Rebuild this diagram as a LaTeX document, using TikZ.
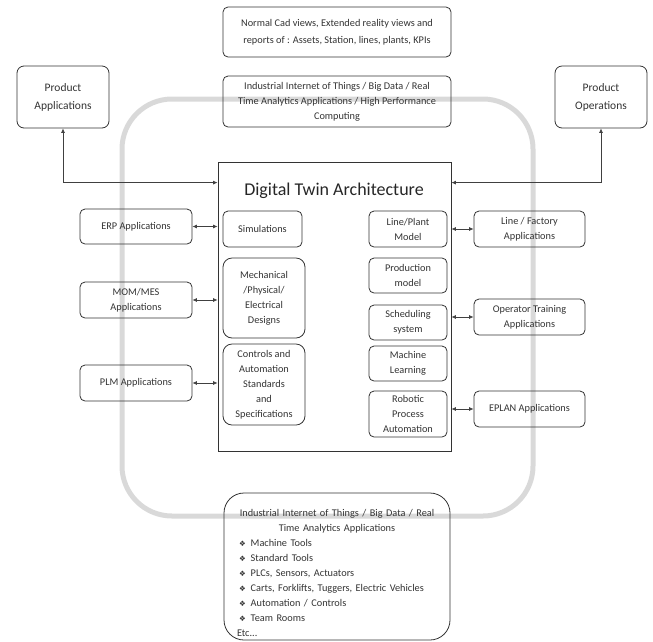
\documentclass[tikz,border=0pt]{standalone}
\usepackage{fontspec}
\setmainfont{Carlito}
\newfontfamily\dingfont{DejaVu Sans}
\usetikzlibrary{arrows.meta}

\tikzset{
  box/.style={draw=black!80, line width=0.8pt, rounded corners=5pt, align=center,
    inner sep=0pt, text=black!80, font=\fontsize{10.3}{15}\selectfont},
  bigbox/.style={box, font=\fontsize{11.5}{18}\selectfont, rounded corners=7pt},
  link/.style={draw=black!75, line width=0.7pt,
    {Latex[length=4.5pt,width=4pt]}-{Latex[length=4.5pt,width=4pt]}},
  frame/.style={draw=black!15, line width=5pt, rounded corners=50pt},
}
\newcommand\dtbullet{\hspace*{2pt}{\dingfont\fontsize{7.5}{15}\selectfont ❖}\hspace{5pt}}

\begin{document}
\begin{tikzpicture}[x=1pt,y=-1pt]
  \useasboundingbox (0,0) rectangle (653,641);

  % light grey surrounding loop
  \draw[frame] (122,99) rectangle (533,516);

  % top information boxes
  \node[box, minimum width=228pt, minimum height=50pt, font=\fontsize{10.3}{16.5}\selectfont]
    (views) at (337,32) {Normal Cad views, Extended reality views and\\reports of : Assets, Station, lines, plants, KPIs};
  \node[box, minimum width=228pt, minimum height=51pt]
    (iiota) at (337,101.5) {Industrial Internet of Things / Big Data / Real\\Time Analytics Applications / High Performance\\Computing};

  % product boxes
  \node[bigbox, minimum width=92pt, minimum height=62pt] (papp) at (63,97) {Product\\Applications};
  \node[bigbox, minimum width=92pt, minimum height=62pt] (pops) at (601,97) {Product\\Operations};

  % central architecture block
  \node[draw=black!80, line width=0.8pt, minimum width=233pt, minimum height=289pt, inner sep=0pt]
    (dt) at (334.5,306.5) {};
  \node[anchor=base, text=black!85, font=\fontsize{18}{22}\selectfont, inner sep=0pt]
    (dttitle) at (334,195) {Digital Twin Architecture};

  % left column inside the block
  \node[box, minimum width=79pt, minimum height=36pt] (sim) at (262.5,229) {Simulations};
  \node[box, minimum width=82pt, minimum height=80pt, rounded corners=9pt] (mech) at (264,298) {Mechanical\\/Physical/\\Electrical\\Designs};
  \node[box, minimum width=82pt, minimum height=81pt, rounded corners=9pt] (ctrl) at (264,384.5) {Controls and\\Automation\\Standards\\and\\Specifications};

  % right column inside the block
  \node[box, minimum width=78pt, minimum height=36pt] (lpm) at (408,229) {Line/Plant\\Model};
  \node[box, minimum width=78pt, minimum height=35pt] (prod) at (408,275.5) {Production\\model};
  \node[box, minimum width=78pt, minimum height=35pt] (sched) at (408,322.5) {Scheduling\\system};
  \node[box, minimum width=78pt, minimum height=35pt] (ml) at (408,363.5) {Machine\\Learning};
  \node[box, minimum width=78pt, minimum height=46pt] (rpa) at (408,414) {Robotic\\Process\\Automation};

  % outer application boxes, left
  \node[box, minimum width=112pt, minimum height=35pt] (erp) at (136,226.5) {ERP Applications};
  \node[box, minimum width=112pt, minimum height=36pt] (mom) at (136,300) {MOM/MES\\Applications};
  \node[box, minimum width=112pt, minimum height=36pt] (plm) at (136,383) {PLM Applications};

  % outer application boxes, right
  \node[box, minimum width=111pt, minimum height=36pt] (lfa) at (529.5,229) {Line / Factory\\Applications};
  \node[box, minimum width=111pt, minimum height=36pt] (ota) at (529.5,317) {Operator Training\\Applications};
  \node[box, minimum width=111pt, minimum height=36pt] (epl) at (529.5,409) {EPLAN Applications};

  % bottom data source box
  \node[box, minimum width=226pt, minimum height=147pt, rounded corners=20pt] (iiotb) at (337,566.5) {};
  \node[align=left, text width=200pt, inner sep=0pt, text=black!80,
        font=\fontsize{10.3}{15}\selectfont] (iiotlist) at (337,573) {%
    \makebox[200pt][c]{Industrial Internet of Things / Big Data / Real}\\
    \makebox[200pt][c]{Time Analytics Applications}\\
    \dtbullet Machine Tools\\
    \dtbullet Standard Tools\\
    \dtbullet PLCs, Sensors, Actuators\\
    \dtbullet Carts, Forklifts, Tuggers, Electric Vehicles\\
    \dtbullet Automation / Controls\\
    \dtbullet Team Rooms\\
    Etc...};

  % connectors
  \coordinate (dtl) at ([yshift=-21pt]dt.north west);
  \coordinate (dtr) at ([yshift=-21pt]dt.north east);
  \draw[link] (papp.south) |- (dtl);
  \draw[link] (pops.south) |- (dtr);

  \draw[link] (erp.east) -- (erp.east -| dt.west);
  \draw[link] (mom.east) -- (mom.east -| dt.west);
  \draw[link] (plm.east) -- (plm.east -| dt.west);

  \draw[link] (lfa.west -| dt.east) -- (lfa.west);
  \draw[link] (ota.west -| dt.east) -- (ota.west);
  \draw[link] (epl.west -| dt.east) -- (epl.west);
\end{tikzpicture}
\end{document}
